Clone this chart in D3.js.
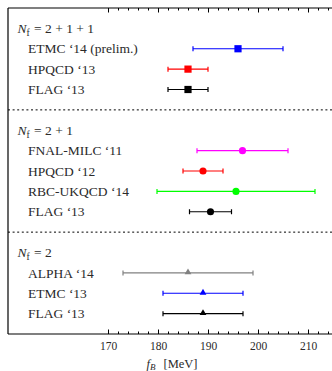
<!DOCTYPE html>
<html><head><meta charset="utf-8">
<script src="https://cdn.jsdelivr.net/npm/d3@7"></script>
<style>html,body{margin:0;padding:0;background:#fff;}svg{display:block;}</style>
</head><body>
<script>
// ---- data ----
const headerLabels = ["2 + 1 + 1", "2 + 1", "2"];
const headerRows = [1, 6, 12];
const separatorRows = [5, 11];
const rowLabels = ["ETMC ‘14 (prelim.)", "HPQCD ‘13", "FLAG ‘13",
                   "FNAL-MILC ‘11", "HPQCD ‘12", "RBC-UKQCD ‘14", "FLAG ‘13",
                   "ALPHA ‘14", "ETMC ‘13", "FLAG ‘13"];
const rowIndex = [2, 3, 4, 7, 8, 9, 10, 13, 14, 15];
const centralValues = [196.0, 186.0, 186.0, 196.9, 189.0, 195.6, 190.5, 186.0, 189.0, 189.0];
const lowValues     = [187.0, 182.0, 182.0, 187.8, 185.0, 179.8, 186.3, 173.0, 181.0, 181.0];
const highValues    = [205.0, 190.0, 190.0, 206.0, 193.0, 211.4, 194.7, 199.0, 197.0, 197.0];
const majorTicks = [170, 180, 190, 200, 210];
const minorTicks = [172,174,176,178,182,184,186,188,192,194,196,198,202,204,206,208,212,214];
// ---- styles ----
const markerColors = ["#0000ff", "#ff0000", "#000000", "#ff00ff", "#ff0000", "#00ff00", "#000000", "#808080", "#0000ff", "#000000"];
const markerShapes = ["square","square","square","circle","circle","circle","circle","triangle","triangle","triangle"];

const W = 332, H = 371;
const svg = d3.select("body").append("svg").attr("width", W).attr("height", H);
const x = d3.scaleLinear().domain([150, 216]).range([8, 338]);
const y = d3.scaleLinear().domain([0, 16]).range([8, 334]);
const serif = "'Liberation Serif', 'DejaVu Serif', serif";
const textCol = "#2a2a2a";

// frame
svg.append("line").attr("x1", 8).attr("x2", 8).attr("y1", y(0)).attr("y2", y(16)).attr("stroke", "#000").attr("stroke-width", 1.2);
svg.append("line").attr("x1", 8).attr("x2", W + 10).attr("y1", y(0)).attr("y2", y(0)).attr("stroke", "#000").attr("stroke-width", 1.2);

// axes (ticks inward)
const bottomAxis = d3.axisBottom(x).tickValues(majorTicks).tickSize(-4.5).tickPadding(8).tickFormat(d3.format("d"));
const gB = svg.append("g").attr("transform", `translate(0,${y(16)})`).call(bottomAxis);
gB.select(".domain").attr("d", `M8,0H${W + 10}`).attr("stroke-width", 1.2);
gB.selectAll("text").attr("font-family", serif).attr("font-size", 11.5).attr("fill", textCol);
const gBm = svg.append("g").attr("transform", `translate(0,${y(16)})`).call(d3.axisBottom(x).tickValues(minorTicks).tickSize(-2.5).tickFormat(""));
gBm.select(".domain").remove();

const gT = svg.append("g").attr("transform", `translate(0,${y(0)})`).call(d3.axisTop(x).tickValues(majorTicks).tickSize(-4.5).tickFormat(""));
gT.select(".domain").remove();
const gTm = svg.append("g").attr("transform", `translate(0,${y(0)})`).call(d3.axisTop(x).tickValues(minorTicks).tickSize(-2.5).tickFormat(""));
gTm.select(".domain").remove();

// separators
svg.selectAll("line.sep").data(separatorRows).join("line").attr("class", "sep")
  .attr("x1", 8).attr("x2", W).attr("y1", d => y(d)).attr("y2", d => y(d))
  .attr("stroke", "#000").attr("stroke-width", 1).attr("stroke-dasharray", "2,2.6");

// headers
const hdr = svg.selectAll("text.hdr").data(headerLabels).join("text").attr("class", "hdr")
  .attr("x", 17.5).attr("y", (d, i) => y(headerRows[i])).attr("dy", "0.35em")
  .attr("font-family", serif).attr("font-size", 13.5).attr("fill", textCol);
hdr.append("tspan").attr("font-style", "italic").text("N");
hdr.append("tspan").attr("font-size", 9.5).attr("dy", 3).text("f");
hdr.append("tspan").attr("dy", -3).attr("dx", 1).text(d => " = " + d);

// row labels
svg.selectAll("text.lbl").data(rowLabels).join("text").attr("class", "lbl")
  .attr("x", 28).attr("y", (d, i) => y(rowIndex[i])).attr("dy", "0.35em")
  .attr("font-family", serif).attr("font-size", 13.5).attr("fill", textCol).text(d => d);

// error bars
const idx = d3.range(rowLabels.length);
const bars = svg.append("g").selectAll("g").data(idx).join("g");
bars.append("line").attr("x1", i => x(lowValues[i])).attr("x2", i => x(highValues[i]))
  .attr("y1", i => y(rowIndex[i])).attr("y2", i => y(rowIndex[i]))
  .attr("stroke", i => markerColors[i]).attr("stroke-width", 1.2);
[lowValues, highValues].forEach(arr => {
  bars.append("line").attr("x1", i => x(arr[i])).attr("x2", i => x(arr[i]))
    .attr("y1", i => y(rowIndex[i]) - 2.5).attr("y2", i => y(rowIndex[i]) + 2.5)
    .attr("stroke", i => markerColors[i]).attr("stroke-width", 1.2);
});
// markers
const sym = { square: d3.symbolSquare, circle: d3.symbolCircle, triangle: d3.symbolTriangle };
const size = { square: 52, circle: 40, triangle: 20 };
bars.append("path")
  .attr("d", i => d3.symbol(sym[markerShapes[i]], size[markerShapes[i]])())
  .attr("transform", i => `translate(${x(centralValues[i])},${y(rowIndex[i]) - (markerShapes[i] === "triangle" ? 0.5 : 0)})`)
  .attr("fill", i => markerColors[i]);

// x label
const xl = svg.append("text").attr("x", 172).attr("y", 367.5).attr("text-anchor", "middle")
  .attr("font-family", serif).attr("font-size", 12.5).attr("fill", textCol);
xl.append("tspan").attr("font-style", "italic").text("f");
xl.append("tspan").attr("font-style", "italic").attr("font-size", 9).attr("dy", 2.5).text("B");
xl.append("tspan").attr("dy", -2.5).attr("dx", 8).text("[MeV]");
</script>
</body></html>
